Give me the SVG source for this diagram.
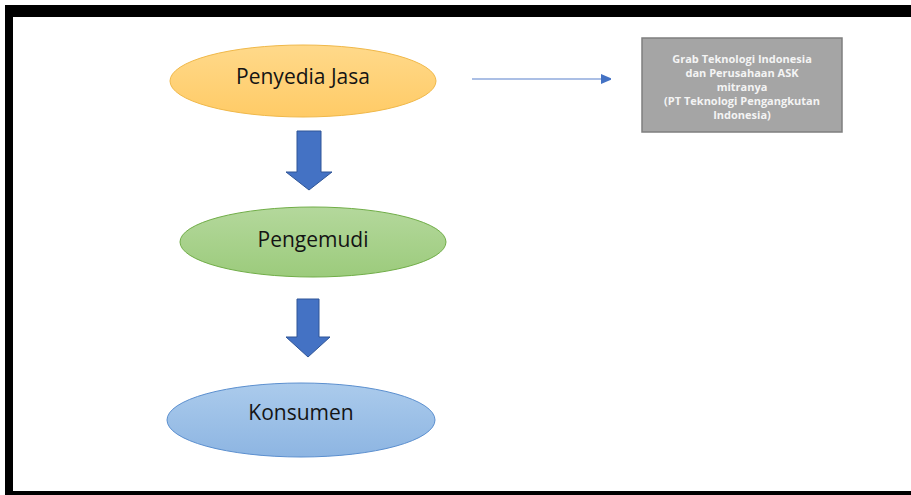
<svg xmlns="http://www.w3.org/2000/svg" width="911" height="495" viewBox="0 0 911 495">
<style>
.lbl{font-family:"Open Sans","Noto Sans",sans-serif;font-size:21px;fill:#141414;text-anchor:middle}
.box{font-family:"Open Sans","Noto Sans",sans-serif;font-size:11px;font-weight:bold;fill:#f4f4f4;text-anchor:middle}
.blk{fill:#4472C4;stroke:#2F5597;stroke-width:1}
</style>
<defs>
<linearGradient id="gY" x1="0" y1="0" x2="0" y2="1"><stop offset="0" stop-color="#FFD98A"/><stop offset="1" stop-color="#FFCB66"/></linearGradient>
<linearGradient id="gG" x1="0" y1="0" x2="0" y2="1"><stop offset="0" stop-color="#B4D89C"/><stop offset="1" stop-color="#9CCB7C"/></linearGradient>
<linearGradient id="gB" x1="0" y1="0" x2="0" y2="1"><stop offset="0" stop-color="#ABCBEC"/><stop offset="1" stop-color="#8DB5E2"/></linearGradient>
<marker id="ah" markerWidth="10" markerHeight="10" refX="9" refY="5" orient="auto" markerUnits="userSpaceOnUse"><path d="M0,0 L12,5 L0,10 z" fill="#4472C4"/></marker>
</defs>
<rect x="5" y="5" width="906" height="490" fill="#000"/>
<rect x="13" y="17" width="898" height="474" fill="#fff"/>
<g id="connectors">
<path class="blk" d="M297,131 L321,131 L321,172 L332,172 L309,190 L286,172 L297,172 Z"/>
<path class="blk" d="M297,299 L319,299 L319,337 L330,337 L308,357 L286,337 L297,337 Z"/>
<line x1="472" y1="79" x2="610" y2="79" stroke="#8FAADC" stroke-width="1.5" marker-end="url(#ah)"/>
</g>
<g id="penyedia">
<ellipse cx="303" cy="81" rx="133" ry="36" fill="url(#gY)" stroke="#F0B849" stroke-width="1"/>
<text class="lbl" x="303" y="84">Penyedia Jasa</text>
</g>
<g id="pengemudi">
<ellipse cx="313" cy="242" rx="133" ry="35" fill="url(#gG)" stroke="#70AD47" stroke-width="1"/>
<text class="lbl" x="313" y="247">Pengemudi</text>
</g>
<g id="konsumen">
<ellipse cx="301" cy="420" rx="134" ry="37" fill="url(#gB)" stroke="#5B8FCF" stroke-width="1"/>
<text class="lbl" x="301" y="420">Konsumen</text>
</g>
<g id="grab">
<rect x="642" y="38" width="200" height="94" fill="#A5A5A5" stroke="#7F7F7F" stroke-width="1.5"/>
<text class="box" x="742" y="63">Grab Teknologi Indonesia</text>
<text class="box" x="742" y="77">dan Perusahaan ASK</text>
<text class="box" x="742" y="91">mitranya</text>
<text class="box" x="742" y="105">(PT Teknologi Pengangkutan</text>
<text class="box" x="742" y="119">Indonesia)</text>
</g>
</svg>
